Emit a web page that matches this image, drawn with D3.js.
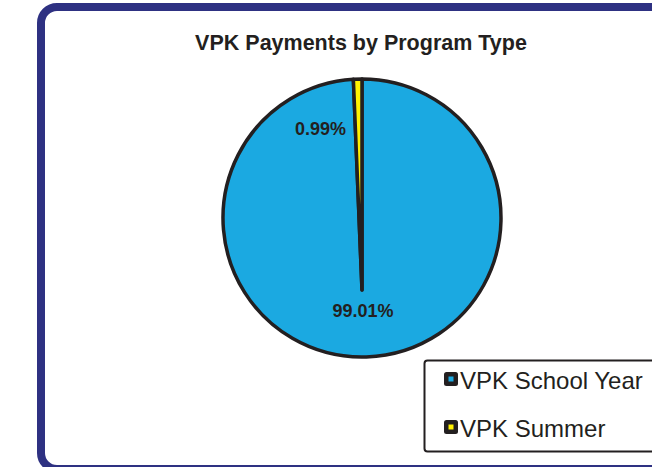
<!DOCTYPE html>
<html>
<head>
<meta charset="utf-8">
<script src="https://cdn.jsdelivr.net/npm/d3@7"></script>
<style>
  html, body { margin: 0; padding: 0; background: #fff; }
  svg { display: block; font-family: 'Liberation Sans', Arial, sans-serif; }
</style>
</head>
<body>
<svg id="chart" width="652" height="467"></svg>
<script>
const title = 'VPK Payments by Program Type'
const categories = ['VPK School Year', 'VPK Summer']
const values = [99.01, 0.99]
const colors = ['#1ba9e1', '#fff200']

const svg = d3.select('#chart')
const dark = '#231f20'

// outer frame (runs off the right/bottom edge like the source)
svg.append('rect')
  .attr('x', 41).attr('y', 7)
  .attr('width', 720).attr('height', 462)
  .attr('rx', 16)
  .attr('fill', '#fff')
  .attr('stroke', '#2e3182')
  .attr('stroke-width', 8)

svg.append('text')
  .attr('x', 361).attr('y', 50)
  .attr('text-anchor', 'middle')
  .attr('font-size', 21.5).attr('font-weight', 'bold')
  .attr('fill', dark)
  .text(title)

const cx = 362, cy = 218, r = 139
// the wedges meet a bit below the centre in the original
const apex = [cx, cy + 72]

const pie = d3.pie().sort(null).value(d => d)
const arcs = pie(values)
const pt = a => [cx + r * Math.sin(a), cy - r * Math.cos(a)]

const wedge = d => {
  const p0 = pt(d.startAngle), p1 = pt(d.endAngle)
  const large = d.endAngle - d.startAngle > Math.PI ? 1 : 0
  const path = d3.path()
  path.moveTo(apex[0], apex[1])
  path.lineTo(p0[0], p0[1])
  return path.toString() + `A${r},${r} 0 ${large} 1 ${p1[0]},${p1[1]}Z`
}

svg.append('g').selectAll('path')
  .data(arcs)
  .join('path')
  .attr('d', wedge)
  .attr('fill', (d, i) => colors[i])
  .attr('stroke', dark)
  .attr('stroke-width', 3.5)
  .attr('stroke-linejoin', 'round')

// percentage labels
const labelPos = [[363, 317], [320.5, 135]]
svg.append('g').selectAll('text')
  .data(arcs)
  .join('text')
  .attr('x', (d, i) => labelPos[i][0])
  .attr('y', (d, i) => labelPos[i][1])
  .attr('text-anchor', 'middle')
  .attr('font-size', 18).attr('font-weight', 'bold')
  .attr('fill', dark)
  .text(d => d3.format('.2f')(d.data) + '%')

// legend
const legend = svg.append('g')
legend.append('rect')
  .attr('x', 424.5).attr('y', 360.5)
  .attr('width', 260).attr('height', 91)
  .attr('rx', 3)
  .attr('fill', '#fff')
  .attr('stroke', dark)
  .attr('stroke-width', 2)

const rowY = d3.scalePoint().domain(categories).range([372, 420])
const item = legend.selectAll('g.item')
  .data(categories)
  .join('g')
  .attr('class', 'item')
  .attr('transform', d => `translate(444,${rowY(d)})`)

item.append('rect')
  .attr('width', 14).attr('height', 14)
  .attr('rx', 2.5)
  .attr('fill', dark)
item.append('rect')
  .attr('x', 4.5).attr('y', 4.5)
  .attr('width', 5).attr('height', 5)
  .attr('fill', (d, i) => colors[i])
item.append('text')
  .attr('x', 16).attr('y', 16.5)
  .attr('font-size', 24)
  .attr('fill', dark)
  .text(d => d)
</script>
</body>
</html>
